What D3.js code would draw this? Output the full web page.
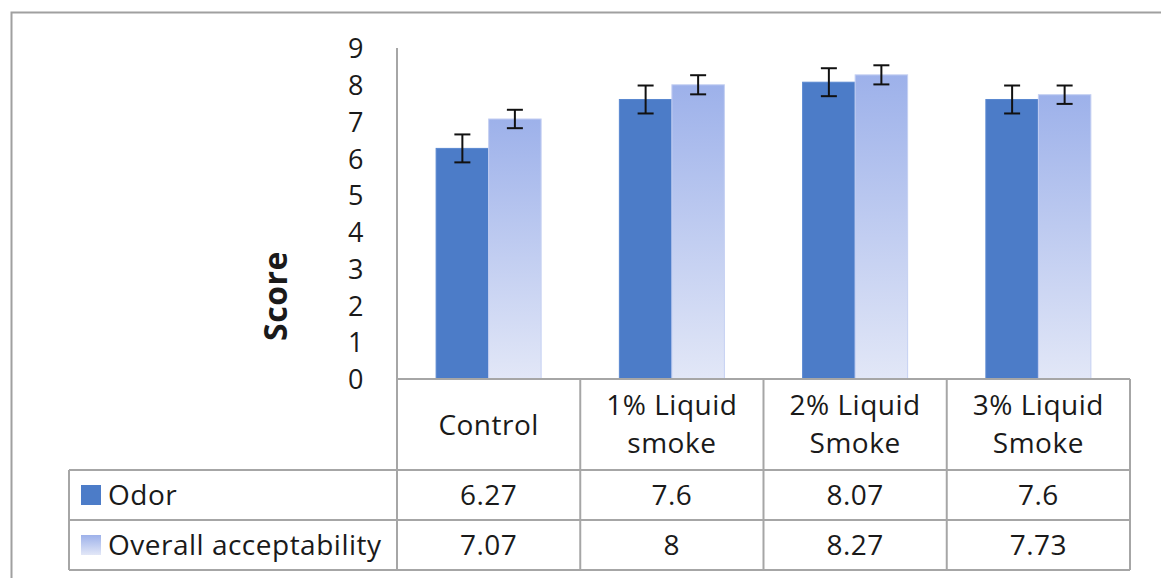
<!DOCTYPE html>
<html><head><meta charset="utf-8">
<script src="https://cdn.jsdelivr.net/npm/d3@7"></script>
<style>
html,body{margin:0;padding:0;background:#fff;}
svg{display:block;}
text{font-family:"Open Sans",Lato,sans-serif;fill:#1a1a1a;letter-spacing:0.5px;}
</style></head>
<body>
<svg id="c" width="1161" height="578"></svg>
<script>
const categories = [["Control"], ["1% Liquid","smoke"], ["2% Liquid","Smoke"], ["3% Liquid","Smoke"]];
const categoryKeys = ["Control","1% Liquid smoke","2% Liquid Smoke","3% Liquid Smoke"];
const seriesNames = ["Odor","Overall acceptability"];
const odor = [6.27, 7.6, 8.07, 7.6];
const overall = [7.07, 8, 8.27, 7.73];
const odorErr = [0.38, 0.38, 0.38, 0.38];
const overallErr = [0.25, 0.26, 0.26, 0.25];
const odorLabels = ["6.27","7.6","8.07","7.6"];
const overallLabels = ["7.07","8","8.27","7.73"];
const yTicks = [0,1,2,3,4,5,6,7,8,9];

const svg = d3.select("#c");
const L = 397, R = 1130, T = 48, B = 379;
const rowY = [470, 520, 570];
const tableLeft = 69;
const lineColor = "#a6a6a6";
const fs = "28px";

const defs = svg.append("defs");
const g1 = defs.append("linearGradient").attr("id","gOverall").attr("x1",0).attr("y1",0).attr("x2",0).attr("y2",1);
g1.append("stop").attr("offset","0%").attr("stop-color","#9db1ea");
g1.append("stop").attr("offset","100%").attr("stop-color","#e2e7f7");

svg.append("path").attr("d","M11.5,600 V12.5 H1200").attr("fill","none").attr("stroke","#a0a0a0").attr("stroke-width",2);

const y = d3.scaleLinear().domain([0,9]).range([B,T]);
const x0 = d3.scaleBand().domain(categoryKeys).range([L,R]).paddingInner(0).paddingOuter(0);
const x1 = d3.scaleBand().domain(seriesNames).range([0,x0.bandwidth()]).paddingInner(0).paddingOuter(0.745);

const yAxis = d3.axisLeft(y).tickValues(yTicks).tickSize(0).tickPadding(33).tickFormat(d3.format("d"));
const ya = svg.append("g").attr("transform",`translate(${L},0)`).call(yAxis);
ya.select(".domain").remove();
ya.selectAll("text").style("font-size","27px").style("font-family","'Open Sans',sans-serif").attr("fill","#1a1a1a").attr("dy","0.36em");

svg.append("text").attr("transform","translate(287,296) rotate(-90)").attr("text-anchor","middle")
  .style("font-size","32px").style("font-weight","bold").text("Score");

const data = categoryKeys.map((k,i)=>({k, vals:[{s:seriesNames[0],v:odor[i],e:odorErr[i]},{s:seriesNames[1],v:overall[i],e:overallErr[i]}]}));
const groups = svg.append("g").selectAll("g").data(data).join("g").attr("transform",d=>`translate(${x0(d.k)},0)`);
groups.selectAll("rect").data(d=>d.vals).join("rect")
  .attr("x",d=>x1(d.s)).attr("width",x1.bandwidth())
  .attr("y",d=>y(d.v)).attr("height",d=>y(0)-y(d.v))
  .attr("fill",d=>d.s===seriesNames[0]?"#4c7cc8":"url(#gOverall)")
  .attr("stroke",d=>d.s===seriesNames[0]?"#5a88d0":"#c5d0f2").attr("stroke-width",1);

const eb = groups.selectAll("g.err").data(d=>d.vals).join("g").attr("class","err");
eb.append("line").attr("x1",d=>x1(d.s)+x1.bandwidth()/2).attr("x2",d=>x1(d.s)+x1.bandwidth()/2)
  .attr("y1",d=>y(d.v+d.e)).attr("y2",d=>y(d.v-d.e)).attr("stroke","#111").attr("stroke-width",2);
eb.selectAll("line.cap").data(d=>[{s:d.s,yv:d.v+d.e},{s:d.s,yv:d.v-d.e}]).join("line").attr("class","cap")
  .attr("x1",d=>x1(d.s)+x1.bandwidth()/2-8).attr("x2",d=>x1(d.s)+x1.bandwidth()/2+8)
  .attr("y1",d=>y(d.yv)).attr("y2",d=>y(d.yv)).attr("stroke","#111").attr("stroke-width",2);

const tl = svg.append("g").attr("stroke",lineColor).attr("stroke-width",2);
tl.append("line").attr("x1",L).attr("x2",L).attr("y1",T).attr("y2",rowY[2]);
tl.append("line").attr("x1",L).attr("x2",R).attr("y1",B).attr("y2",B);
rowY.forEach(ry=>tl.append("line").attr("x1",tableLeft).attr("x2",R).attr("y1",ry).attr("y2",ry));
tl.append("line").attr("x1",tableLeft).attr("x2",tableLeft).attr("y1",rowY[0]).attr("y2",rowY[2]);
categoryKeys.forEach(k=>{
  const xe = x0(k)+x0.bandwidth();
  tl.append("line").attr("x1",xe).attr("x2",xe).attr("y1",B).attr("y2",rowY[2]);
});

categories.forEach((lines,i)=>{
  const cx = x0(categoryKeys[i]) + x0.bandwidth()/2;
  const t = svg.append("text").attr("text-anchor","middle").style("font-size",fs);
  if(lines.length===1){
    t.append("tspan").attr("x",cx).attr("y",435).text(lines[0]);
  } else {
    t.append("tspan").attr("x",cx).attr("y",415).text(lines[0]);
    t.append("tspan").attr("x",cx).attr("y",453).text(lines[1]);
  }
  svg.append("text").attr("text-anchor","middle").attr("x",cx).attr("y",505).style("font-size",fs).text(odorLabels[i]);
  svg.append("text").attr("text-anchor","middle").attr("x",cx).attr("y",555).style("font-size",fs).text(overallLabels[i]);
});

svg.append("rect").attr("x",81).attr("y",485).attr("width",20).attr("height",20).attr("fill","#4c7cc8");
svg.append("rect").attr("x",81).attr("y",535).attr("width",20).attr("height",20).attr("fill","url(#gOverall)");
svg.append("text").attr("x",108).attr("y",505).style("font-size",fs).text(seriesNames[0]);
svg.append("text").attr("x",108).attr("y",555).style("font-size",fs).text(seriesNames[1]);
</script>
</body></html>
